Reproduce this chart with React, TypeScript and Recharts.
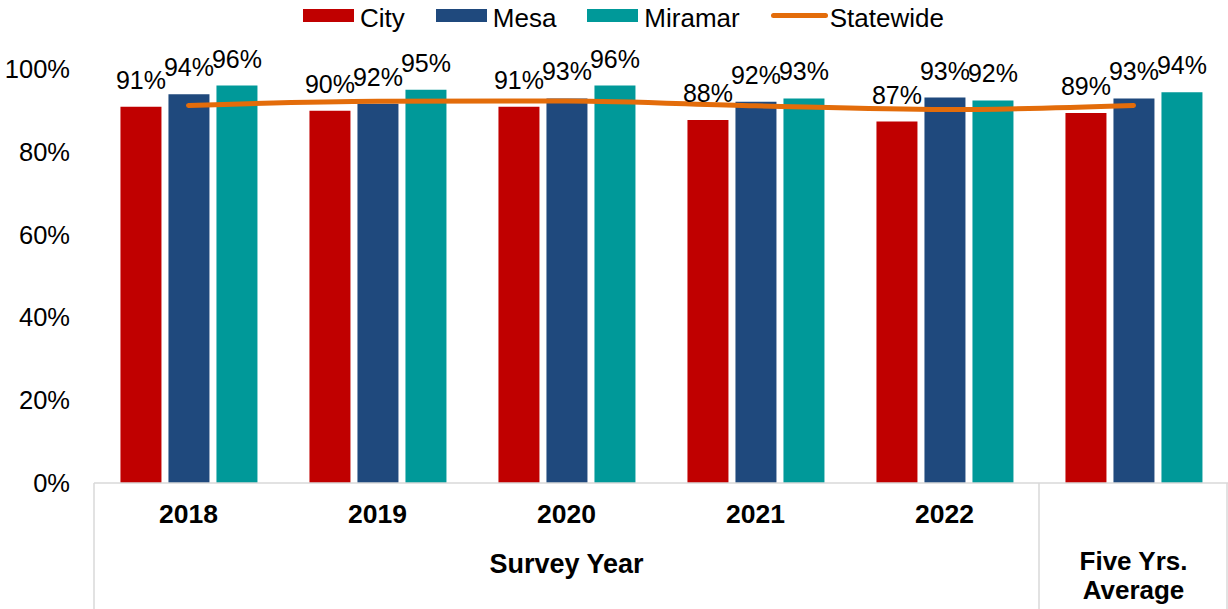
import React from 'react';
import { ComposedChart, Bar, Line, XAxis, YAxis, LabelList } from 'recharts';

const categories = ['2018', '2019', '2020', '2021', '2022', 'Five Yrs. Average'];
const tickLabels = ['2018', '2019', '2020', '2021', '2022', ''];
const cityValues = [90.9, 89.9, 90.9, 87.7, 87.3, 89.4];
const mesaValues = [93.9, 91.6, 92.9, 92.1, 93.1, 92.9];
const miramarValues = [96.0, 95.0, 96.0, 92.9, 92.4, 94.4];
const statewideValues = [91.2, 92.2, 92.3, 91.1, 90.2, 91.2];
const yTicks = [0, 20, 40, 60, 80, 100];
const groups = [
  { lines: ['Survey Year'], from: 0, to: 4 },
  { lines: ['Five Yrs.', 'Average'], from: 5, to: 5 },
];

const series = [
  { key: 'City', color: '#C00000', type: 'bar' },
  { key: 'Mesa', color: '#1F497D', type: 'bar' },
  { key: 'Miramar', color: '#009999', type: 'bar' },
  { key: 'Statewide', color: '#E36C0A', type: 'line' },
];

const data = categories.map((c, i) => ({
  name: c,
  City: cityValues[i],
  Mesa: mesaValues[i],
  Miramar: miramarValues[i],
  Statewide: statewideValues[i],
}));

const W = 1228;
const H = 609;
const Y_AXIS_W = 94;
const X_AXIS_H = 126;
const MARGIN_TOP = 69;
const BAND = (W - Y_AXIS_W) / categories.length;
const FONT = '"Liberation Sans", Arial, sans-serif';
const GRID = '#d9d9d9';

const XTick = (props: any) => {
  const { x, y, index } = props;
  const els: React.ReactNode[] = [];
  els.push(
    <text key="t" x={x} y={y + 40} textAnchor="middle" fontSize={26.5} fontWeight="bold" fill="#000" fontFamily={FONT}>
      {tickLabels[index]}
    </text>
  );
  groups.forEach((g, gi) => {
    if (index === g.from) {
      els.push(<line key={'l' + gi} x1={x - BAND / 2} x2={x - BAND / 2} y1={y} y2={y + X_AXIS_H} stroke={GRID} strokeWidth={1.5} />);
    }
    if (index === categories.length - 1 && index === g.to) {
      els.push(<line key={'r' + gi} x1={x + BAND / 2 - 1} x2={x + BAND / 2 - 1} y1={y} y2={y + X_AXIS_H} stroke={GRID} strokeWidth={1.5} />);
    }
    const mid = (g.from + g.to) / 2;
    if (index === Math.floor(mid)) {
      const cx = x + (mid - index) * BAND;
      const multi = g.lines.length > 1;
      g.lines.forEach((ln, li) => {
        els.push(
          <text
            key={'g' + gi + li}
            x={cx}
            y={multi ? y + 87 + li * 29 : y + 90}
            textAnchor="middle"
            fontSize={multi ? 26 : 27}
            fontWeight="bold"
            fill="#000"
            fontFamily={FONT}
          >
            {ln}
          </text>
        );
      });
    }
  });
  return <g>{els}</g>;
};

const fmt = (v: any) => `${Math.round(Number(v))}%`;

const Legend = () => (
  <div
    style={{
      position: 'absolute',
      top: 4,
      left: 303,
      display: 'flex',
      alignItems: 'flex-start',
      gap: 31,
      fontFamily: FONT,
      fontSize: 26,
      lineHeight: '28px',
      color: '#000',
      whiteSpace: 'nowrap',
    }}
  >
    {series.map((s) => (
      <div key={s.key} style={{ display: 'flex', alignItems: 'flex-start' }}>
        {s.type === 'bar' ? (
          <div style={{ width: 51, height: 13, background: s.color, marginRight: 6, marginTop: 5 }} />
        ) : (
          <div style={{ width: 57, height: 5, background: s.color, borderRadius: 3, marginRight: 2, marginTop: 9 }} />
        )}
        <span>{s.key}</span>
      </div>
    ))}
  </div>
);

export default function App() {
  return (
    <div style={{ position: 'relative', width: W, height: H, background: '#fff' }}>
      <style>{`body{margin:0}`}</style>
      <ComposedChart
        width={W}
        height={H}
        data={data}
        margin={{ top: MARGIN_TOP, right: 0, bottom: 0, left: 0 }}
        barCategoryGap="14%"
        barGap={7}
      >
        <XAxis
          dataKey="name"
          height={X_AXIS_H}
          tickLine={false}
          tickSize={0}
          tickMargin={0}
          axisLine={{ stroke: GRID, strokeWidth: 1.5 }}
          tick={<XTick />}
          interval={0}
        />
        <YAxis
          width={Y_AXIS_W}
          domain={[0, 100]}
          ticks={yTicks}
          tickFormatter={(v: number) => `${v}%`}
          axisLine={false}
          tickLine={false}
          tickSize={6}
          tickMargin={18}
          tick={{ fontSize: 25.5, fill: '#000', fontFamily: FONT }}
        />
        {series
          .filter((s) => s.type === 'bar')
          .map((s) => (
            <Bar key={s.key} dataKey={s.key} fill={s.color} isAnimationActive={false}>
              <LabelList dataKey={s.key} position="top" offset={18} formatter={fmt} fill="#000" fontSize={25} fontFamily={FONT} />
            </Bar>
          ))}
        <Line
          dataKey="Statewide"
          type="monotone"
          stroke="#E36C0A"
          strokeWidth={5}
          strokeLinecap="round"
          dot={false}
          activeDot={false}
          isAnimationActive={false}
        />
      </ComposedChart>
      <Legend />
    </div>
  );
}
